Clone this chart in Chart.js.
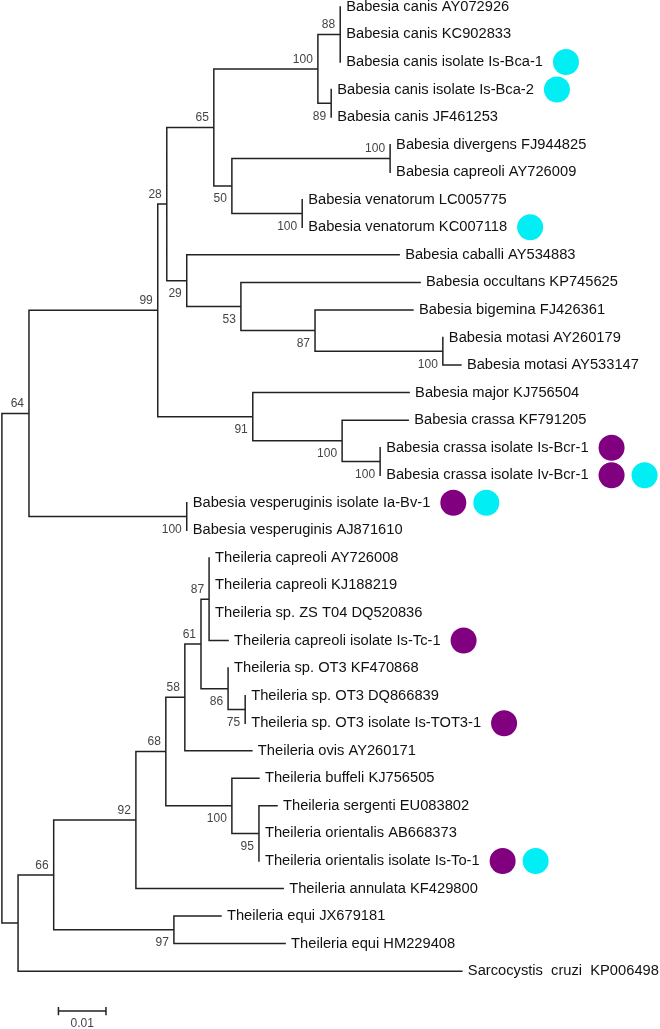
<!DOCTYPE html>
<html>
<head>
<meta charset="utf-8">
<title>Piroplasm phylogeny</title>
<script src="https://cdn.jsdelivr.net/npm/chart.js@4.4.1/dist/chart.umd.min.js"></script>
<style>
  html, body { margin: 0; padding: 0; background: #fff; }
  canvas { display: block; }
</style>
</head>
<body>
<canvas id="treeChart" width="660" height="1029"></canvas>
<script>
// tip labels, top to bottom (row index = y value)
const taxa = [
  'Babesia canis AY072926', 'Babesia canis KC902833', 'Babesia canis isolate Is-Bca-1',
  'Babesia canis isolate Is-Bca-2', 'Babesia canis JF461253',
  'Babesia divergens FJ944825', 'Babesia capreoli AY726009',
  'Babesia venatorum LC005775', 'Babesia venatorum KC007118',
  'Babesia caballi AY534883', 'Babesia occultans KP745625', 'Babesia bigemina FJ426361',
  'Babesia motasi AY260179', 'Babesia motasi AY533147', 'Babesia major KJ756504',
  'Babesia crassa KF791205', 'Babesia crassa isolate Is-Bcr-1', 'Babesia crassa isolate Iv-Bcr-1',
  'Babesia vesperuginis isolate Ia-Bv-1', 'Babesia vesperuginis AJ871610',
  'Theileria capreoli AY726008', 'Theileria capreoli KJ188219', 'Theileria sp. ZS T04 DQ520836',
  'Theileria capreoli isolate Is-Tc-1', 'Theileria sp. OT3 KF470868', 'Theileria sp. OT3 DQ866839',
  'Theileria sp. OT3 isolate Is-TOT3-1', 'Theileria ovis AY260171', 'Theileria buffeli KJ756505',
  'Theileria sergenti EU083802', 'Theileria orientalis AB668373', 'Theileria orientalis isolate Is-To-1',
  'Theileria annulata KF429800', 'Theileria equi JX679181', 'Theileria equi HM229408',
  'Sarcocystis  cruzi  KP006498'
];

// distance of each tip from the root (substitutions per site)
const tipDepth = [
  0.0712, 0.0712, 0.0712, 0.0693, 0.0693, 0.0817, 0.0817, 0.0632, 0.0632,
  0.0836, 0.0880, 0.0865, 0.0928, 0.0966, 0.0857, 0.0855, 0.0796, 0.0796,
  0.0389, 0.0389, 0.0436, 0.0436, 0.0436, 0.0476, 0.0476, 0.0512, 0.0512,
  0.0526, 0.0541, 0.0579, 0.0541, 0.0541, 0.0592, 0.0461, 0.0596, 0.0968
];

// internal nodes: children are tip indices (numbers) or node ids (strings)
const nodeIds = ['A','B','C','D','E','F','G','H','I','J','K','L','M','N','O','P','Q','R',
  'S','T','U','V','W','X','Y','Z','AA','AB','AC','AD','ROOT'];
const nodeKids = [
  [0,1,2], [3,4], ['A','B'], [5,6], [7,8], ['D','E'], ['C','F'],
  [12,13], [11,'H'], [10,'I'], [9,'J'], ['G','K'],
  [16,17], [15,'M'], [14,'N'], ['L','O'], [18,19], ['P','Q'],
  [20,21,22,23], [25,26], [24,'T'], ['S','U'], ['V',27],
  [29,30,31], [28,'X'], ['W','Y'], ['Z',32], [33,34], ['AA','AB'], ['AC',35], ['R','AD']
];
const nodeDepth = [
  0.0712, 0.0693, 0.0665, 0.0817, 0.0632, 0.0484, 0.0446,
  0.0928, 0.0659, 0.0503, 0.0389, 0.0347,
  0.0796, 0.0716, 0.0528, 0.0328, 0.0389, 0.0057,
  0.0436, 0.0512, 0.0476, 0.0419, 0.0385,
  0.0541, 0.0484, 0.0345, 0.0282, 0.0362, 0.0109, 0.0034, 0
];
const bootstrap = [
  88, 89, 100, 100, 100, 50, 65,
  100, 87, 53, 29, 28,
  100, 100, 91, 99, 100, 64,
  87, 75, 86, 61, 58,
  95, 100, 68, 92, 97, 66, null, null
];

// rows marked with coloured dots
const purpleDots = [16, 17, 18, 23, 26, 31];
const cyanDots = [2, 3, 8, 17, 18, 31];

const scaleLength = 0.01;

function nodeIndex(ref) { return nodeIds.indexOf(ref); }
function xOf(ref) { return typeof ref === 'number' ? tipDepth[ref] : nodeDepth[nodeIndex(ref)]; }
function yOf(ref) {
  if (typeof ref === 'number') return ref;
  const kids = nodeKids[nodeIndex(ref)];
  return (yOf(kids[0]) + yOf(kids[kids.length - 1])) / 2;
}

// elbow path from every node to each child, broken by null points
const branchPoints = [];
nodeIds.forEach((id, n) => {
  const nx = nodeDepth[n], ny = yOf(id);
  nodeKids[n].forEach(k => {
    const kx = xOf(k), ky = yOf(k);
    branchPoints.push({x: nx, y: ny}, {x: nx, y: ky});
    if (kx > nx) branchPoints.push({x: kx, y: ky});
    branchPoints.push({x: null, y: null});
  });
});

const barX = 0.0119, barY = 36.45, tick = 0.15;
const scaleBarPoints = [
  {x: barX, y: barY}, {x: barX + scaleLength, y: barY}, {x: null, y: null},
  {x: barX, y: barY - tick}, {x: barX, y: barY + tick}, {x: null, y: null},
  {x: barX + scaleLength, y: barY - tick}, {x: barX + scaleLength, y: barY + tick}
];

const treeLabels = {
  id: 'treeLabels',
  afterDatasetsDraw(chart) {
    const ctx = chart.ctx;
    const xs = chart.scales.x, ys = chart.scales.y;
    ctx.save();
    ctx.textBaseline = 'middle';

    // tip names and dots
    ctx.font = '14.7px "Liberation Sans", Arial, sans-serif';
    ctx.textAlign = 'left';
    taxa.forEach((name, i) => {
      const tx = xs.getPixelForValue(tipDepth[i]) + 6;
      const ty = ys.getPixelForValue(i);
      ctx.fillStyle = '#111';
      ctx.fillText(name, tx, ty);
      let cx = tx + ctx.measureText(name).width + 23;
      [[purpleDots, '#800080'], [cyanDots, '#00EEF4']].forEach(([rows, col]) => {
        if (!rows.includes(i)) return;
        ctx.beginPath();
        ctx.arc(cx, ty, 13, 0, Math.PI * 2);
        ctx.fillStyle = col;
        ctx.fill();
        cx += 33;
      });
    });

    // bootstrap values: above the branch for upper child, below for lower
    ctx.font = '12px "Liberation Sans", Arial, sans-serif';
    ctx.fillStyle = '#444';
    ctx.textAlign = 'right';
    nodeIds.forEach((id, n) => {
      if (bootstrap[n] == null) return;
      const parent = nodeKids.findIndex(k => k.includes(id));
      const upper = parent >= 0 && nodeKids[parent][0] === id;
      const px = xs.getPixelForValue(nodeDepth[n]) - 5;
      const py = ys.getPixelForValue(yOf(id)) + (upper ? -9.5 : 13);
      ctx.fillText(String(bootstrap[n]), px, py);
    });

    // scale bar label
    ctx.textAlign = 'center';
    ctx.fillText(String(scaleLength), xs.getPixelForValue(barX + scaleLength / 2), ys.getPixelForValue(barY) + 13);
    ctx.restore();
  }
};

new Chart(document.getElementById('treeChart').getContext('2d'), {
  type: 'scatter',
  data: {
    datasets: [{
      data: branchPoints,
      showLine: true,
      spanGaps: false,
      borderColor: '#222',
      borderWidth: 1.5,
      borderCapStyle: 'square',
      borderJoinStyle: 'miter',
      pointRadius: 0,
      tension: 0
    }, {
      data: scaleBarPoints,
      showLine: true,
      spanGaps: false,
      borderColor: '#222',
      borderWidth: 1.5,
      pointRadius: 0
    }]
  },
  options: {
    responsive: false,
    animation: false,
    devicePixelRatio: 1,
    layout: { padding: 0 },
    plugins: { legend: { display: false }, tooltip: { enabled: false } },
    events: [],
    scales: {
      x: { type: 'linear', min: -0.0004, max: 0.1385, display: false },
      y: { type: 'linear', min: -0.25, max: 37.1, reverse: true, display: false }
    }
  },
  plugins: [treeLabels]
});
</script>
</body>
</html>
